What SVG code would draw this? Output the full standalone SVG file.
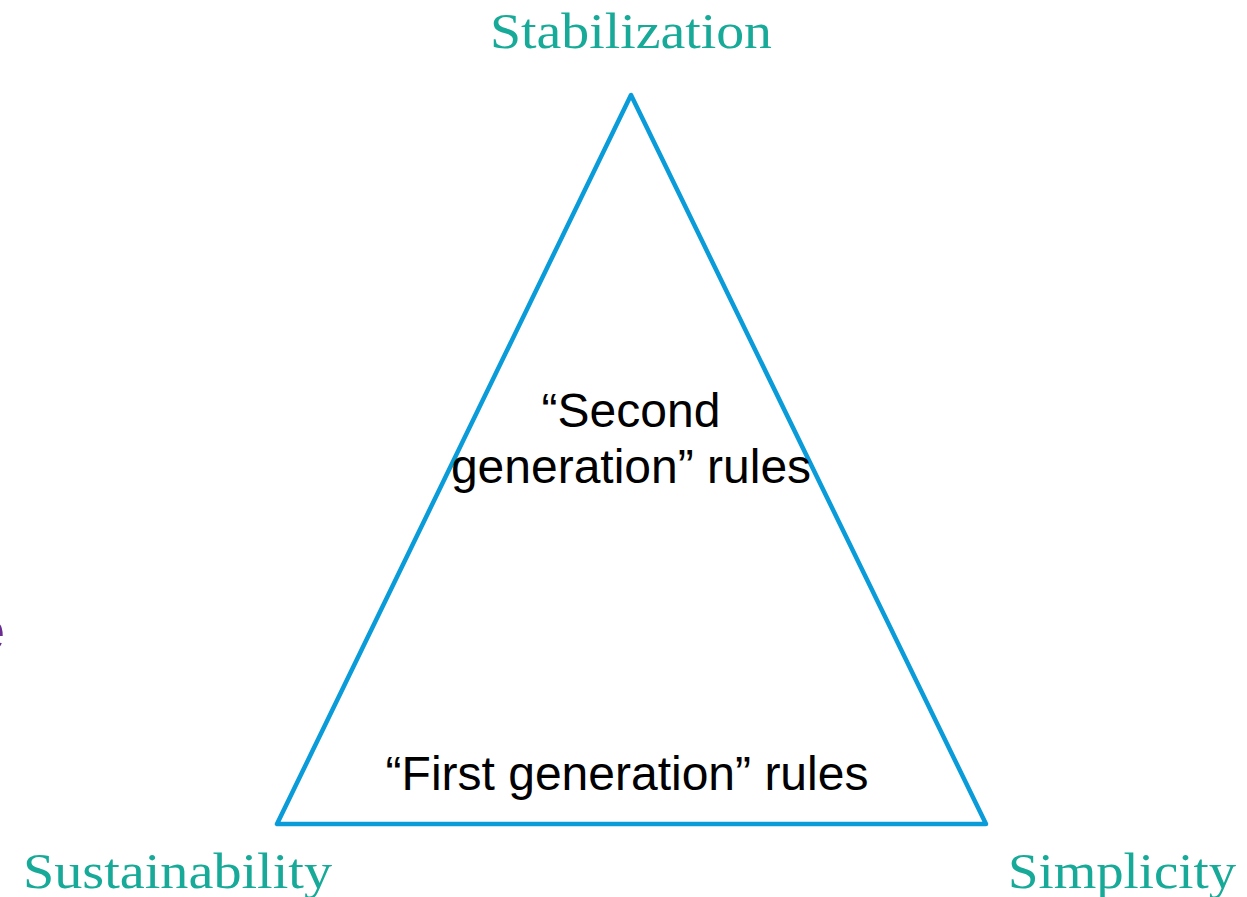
<svg xmlns="http://www.w3.org/2000/svg" width="1247" height="897" viewBox="0 0 1247 897">
  <style>
    .corner { font-family: "Liberation Serif", "DejaVu Serif", serif; font-size: 50px; fill: #17aa98; }
    .rule { font-family: "Liberation Sans", Arial, sans-serif; font-size: 48px; fill: #000; text-anchor: middle; }
  </style>
  <rect width="1247" height="897" fill="#ffffff"/>
  <!-- clipped heading letter at the left edge -->
  <text x="-27" y="650" font-family="Liberation Sans, sans-serif" font-size="58" fill="#6a2c91">e</text>
  <g id="connectors">
    <polygon points="631,95 277,824 986,824" fill="none" stroke="#0a9bd9" stroke-width="4.5" stroke-linejoin="round"/>
  </g>
  <g id="stabilization">
    <text class="corner" x="490" y="48" textLength="282" lengthAdjust="spacingAndGlyphs">Stabilization</text>
  </g>
  <g id="sustainability">
    <text class="corner" x="23" y="888" textLength="309" lengthAdjust="spacingAndGlyphs">Sustainability</text>
  </g>
  <g id="simplicity">
    <text class="corner" x="1008" y="888" textLength="228" lengthAdjust="spacingAndGlyphs">Simplicity</text>
  </g>
  <g id="second-generation">
    <text class="rule" x="631" y="427">“Second</text>
    <text class="rule" x="631" y="483">generation” rules</text>
  </g>
  <g id="first-generation">
    <text class="rule" x="627" y="790">“First generation” rules</text>
  </g>
</svg>
